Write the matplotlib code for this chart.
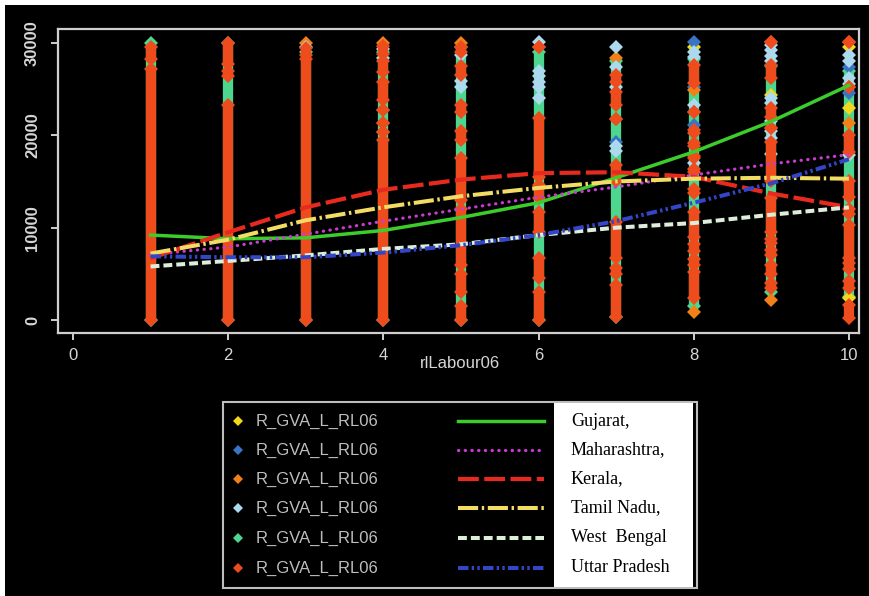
import matplotlib
matplotlib.use("Agg")
import matplotlib.pyplot as plt
from matplotlib.patches import Rectangle

# ---------------- data ----------------
x_levels = [1, 2, 3, 4, 5, 6, 7, 8, 9, 10]

series_label = "R_GVA_L_RL06"
series_colors = ['#F0D81E', '#3A74C4', '#F28018', '#ABD9EE', '#4CD68E', '#EE4C1C']

# individual scatter points: {x: [y, ...]}
yellow_pts = {8: [29600], 9: [24400], 10: [29500, 23000, 2400]}
blue_pts = {7: [19300], 8: [30100, 25200, 21100], 10: [27400, 24600]}
orange_pts = {3: [30000], 4: [30000], 5: [30000], 7: [28400], 8: [24900, 900],
              9: [2200], 10: [21300]}
lightblue_pts = {3: [29600], 4: [29300, 28400], 5: [28700, 25900, 25200],
                 6: [30100, 27000, 26400, 25800, 25200, 24000],
                 7: [29500, 27400, 25200, 18800, 18300],
                 8: [29000, 28500, 23300, 17000],
                 9: [29800, 29200, 28600, 28000, 24000, 23500, 21500, 20500, 19700, 18000],
                 10: [28700, 28000, 26200, 25500, 17900]}

# continuous stacks of points: {x: [(low, high), ...]}
green_spans = {1: [(0, 30000)], 2: [(0, 30000)], 3: [(0, 29000)], 4: [(0, 29000)],
               5: [(0, 29500)], 6: [(0, 29000)], 7: [(300, 28000)], 8: [(1500, 28200)],
               9: [(3000, 27500)], 10: [(2500, 27000)]}
orangered_spans = {
    1: [(0, 27200), (28300, 29600)],
    2: [(0, 23300), (26400, 27000), (27700, 30000)],
    3: [(0, 28300), (28700, 29400)],
    4: [(0, 19500), (20300, 20300), (21300, 21300), (22700, 22700),
        (23800, 25800), (26800, 28000), (28800, 29700)],
    5: [(0, 1500), (3000, 5000), (6000, 12000), (13000, 17500), (19500, 20500),
        (22500, 23300), (26500, 27500), (29000, 29600)],
    6: [(0, 3000), (4500, 6700), (9500, 11700), (13200, 14600), (15500, 21900),
        (29600, 29600)],
    7: [(300, 3800), (5000, 5600), (6700, 10600), (15000, 16800), (21800, 21800),
        (23300, 24700), (25800, 26500)],
    8: [(2400, 5200), (6000, 6600), (7500, 8200), (9000, 11700), (13800, 14200),
        (16000, 16300), (17500, 17800), (18800, 19200), (20200, 20600),
        (22500, 22500), (25700, 27600)],
    9: [(3500, 4000), (5000, 6000), (7000, 7600), (8300, 8800), (9500, 13200),
        (15000, 19300), (20800, 20800), (22000, 23000), (26200, 27600),
        (30100, 30100)],
    10: [(200, 1600), (3500, 4200), (5500, 6200), (6700, 10300), (11500, 12000),
         (13300, 15000), (18200, 20000), (25200, 25200), (30100, 30100)],
}

states = ["Gujarat,", "Maharashtra,", "Kerala,", "Tamil Nadu,", "West  Bengal", "Uttar Pradesh"]
gujarat = [9200, 8800, 8900, 9700, 11100, 12700, 15400, 18200, 21500, 25400]
maharashtra = [7100, 7900, 9300, 10700, 12000, 13300, 14400, 15700, 16900, 17900]
kerala = [6700, 9500, 12200, 14100, 15200, 15900, 16000, 15500, 13700, 12200]
tamil_nadu = [7200, 8700, 10800, 12200, 13400, 14300, 15000, 15300, 15400, 15300]
west_bengal = [5800, 6400, 7000, 7700, 8200, 9200, 10000, 10500, 11400, 12200]
uttar_pradesh = [6900, 6800, 6800, 7300, 8100, 9200, 10700, 12700, 14800, 17400]

line_colors = ['#3CCC2C', '#C83CD2', '#E82A1E', '#F2DC64', '#DCEEDA', '#3446C8']
x_ticks = [0, 2, 4, 6, 8, 10]
y_ticks = [0, 10000, 20000, 30000]
x_label = "rlLabour06"

# ---------------- figure ----------------
W, H = 869, 596
fig = plt.figure(figsize=(W / 100, H / 100), dpi=100)
fig.patch.set_facecolor('white')
fig.add_artist(Rectangle((5 / W, 0), 1, (H - 5) / H, transform=fig.transFigure,
                         facecolor='black', edgecolor='none', zorder=0))

ax = fig.add_axes([58 / W, (H - 333) / H, 801 / W, 304 / H])
ax.set_facecolor('black')
ax.set_xlim(-0.193, 10.13)
ax.set_ylim(-1400, 31500)

span_lw = 7.4
mk = 7.6


def draw_spans(spans, color, z):
    for xv, lst in spans.items():
        for lo, hi in lst:
            if hi > lo:
                ax.vlines(xv, lo, hi, colors=color, linewidth=span_lw, zorder=z)
            ax.plot([xv, xv], [lo, hi], linestyle='none', marker='D', markersize=mk,
                    color=color, markeredgewidth=0, zorder=z)


def draw_pts(pts, color, z):
    for xv, ys in pts.items():
        ax.plot([xv] * len(ys), ys, linestyle='none', marker='D', markersize=mk,
                color=color, markeredgewidth=0, zorder=z)


draw_spans(green_spans, series_colors[4], 2)
draw_pts(yellow_pts, series_colors[0], 3)
draw_pts(blue_pts, series_colors[1], 3)
draw_pts(orange_pts, series_colors[2], 3)
draw_pts(lightblue_pts, series_colors[3], 3)
draw_spans(orangered_spans, series_colors[5], 4)

line_data = [gujarat, maharashtra, kerala, tamil_nadu, west_bengal, uttar_pradesh]
line_styles = [
    dict(linestyle='-', linewidth=2.5),
    dict(linestyle=(0, (0.1, 2.0)), linewidth=2.3, dash_capstyle='round'),
    dict(linestyle=(0, (5, 1.3)), linewidth=3.0),
    dict(linestyle=(0, (5, 0.9, 0.6, 0.9)), linewidth=2.9),
    dict(linestyle=(0, (2.2, 1.0)), linewidth=2.9),
    dict(linestyle=(0, (2.6, 0.8, 0.6, 0.8, 0.6, 0.8)), linewidth=2.9),
]
for yv, col, st in zip(line_data, line_colors, line_styles):
    ax.plot(x_levels, yv, color=col, zorder=5, **st)

axis_col = '#CFCFCF'
for s in ax.spines.values():
    s.set_color(axis_col)
    s.set_linewidth(1.6)
ax.set_xticks(x_ticks)
ax.set_yticks(y_ticks)
ax.set_xticklabels([str(t) for t in x_ticks])
ax.set_yticklabels([str(t) for t in y_ticks], rotation=90, va='center')
ax.tick_params(axis='both', colors=axis_col, length=5, width=1.4, labelsize=12, pad=6,
               labelcolor='#D6D6D6')
for lab in ax.get_xticklabels():
    lab.set_family('Liberation Sans')
for lab in ax.get_yticklabels():
    lab.set_family('Liberation Sans')
    lab.set_fontweight('bold')
ax.tick_params(axis='y', pad=8)

# x label
fig.text(460 / W, 1 - 364 / H, x_label, color='#D6D6D6', fontsize=12,
         family='Liberation Sans', ha='center', va='center')

# ---------------- legend (pixel overlay) ----------------
lg = fig.add_axes([0, 0, 1, 1], zorder=10)
lg.set_xlim(0, W)
lg.set_ylim(H, 0)
lg.axis('off')
lg.patch.set_alpha(0)
lg.add_patch(Rectangle((223, 402), 474, 186, facecolor='black', edgecolor='#BDBDBD',
                       linewidth=1.5))
lg.add_patch(Rectangle((554, 403), 139, 184, facecolor='white', edgecolor='none'))
rows = [421, 450, 479, 508, 538, 568]
for i, ry in enumerate(rows):
    lg.plot([238], [ry], marker='D', markersize=5.5, color=series_colors[i],
            markeredgewidth=0)
    lg.text(256, ry, series_label, color='#BEBEBE', fontsize=12, family='Liberation Sans',
            ha='left', va='center')
    lg.plot([458, 544], [ry, ry], color=line_colors[i], **line_styles[i])
    lg.text(571, ry, states[i], color='black', fontsize=13, family='Liberation Serif',
            ha='left', va='center')

fig.savefig('out.png', dpi=100, facecolor=fig.get_facecolor())
